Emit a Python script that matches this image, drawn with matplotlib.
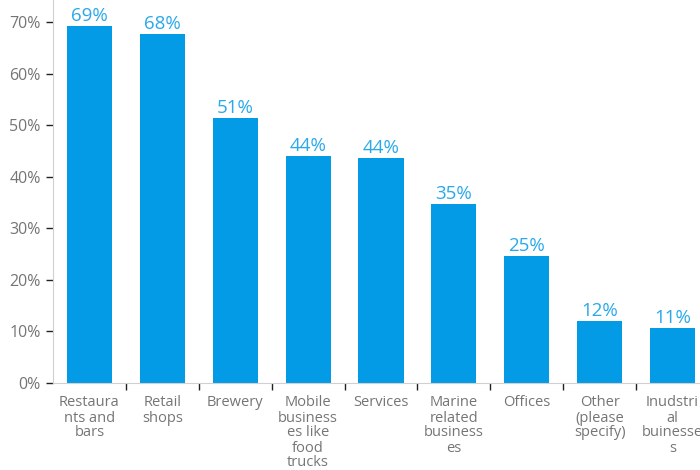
import matplotlib
matplotlib.use("Agg")
import matplotlib.pyplot as plt
import numpy as np

categories = ["Restaura\nnts and\nbars", "Retail\nshops", "Brewery", "Mobile\nbusiness\nes like\nfood\ntrucks",
              "Services", "Marine\nrelated\nbusiness\nes", "Offices", "Other\n(please\nspecify)",
              "Inudstri\nal\nbuinesse\ns"]
values = [69.2, 67.7, 51.4, 44.1, 43.6, 34.7, 24.7, 12.0, 10.6]
yticks = [0, 10, 20, 30, 40, 50, 60, 70]

plt.rcParams['font.family'] = ['Open Sans', 'DejaVu Sans']

fig = plt.figure(figsize=(7, 4.7), dpi=100)
ax = fig.add_axes([53/700, 1-383/470, (709-53)/700, 383/470])

x = np.arange(len(categories))
bar_color = "#039BE5"
ax.bar(x, values, width=0.62, color=bar_color, zorder=2)
for xi, v in zip(x, values):
    ax.text(xi, v + 0.2, f"{round(v):d}%", ha="center", va="bottom",
            color="#29A9EA", fontsize=13.5)

ax.set_xlim(-0.5, len(categories) - 0.5)
ax.set_ylim(0, 74.3)
ax.set_yticks(yticks)
ax.set_yticklabels([f"{t}%" for t in yticks])
ax.tick_params(axis="y", colors="#222222", labelcolor="#757575", labelsize=11.5, length=5, width=1, pad=4)

ax.set_xticks(x)
ax.set_xticklabels(categories, linespacing=1.0)
ax.tick_params(axis="x", which="major", length=0, labelcolor="#757575", labelsize=10.5, pad=9)
ax.set_xticks(np.arange(0.5, len(categories) - 0.5, 1), minor=True)
ax.tick_params(axis="x", which="minor", length=5, width=1, colors="#222222")

for s in ["top", "right"]:
    ax.spines[s].set_visible(False)
ax.spines["left"].set_color("#d0d0d0")
ax.spines["bottom"].set_color("#d0d0d0")

fig.savefig("out.png", dpi=100)
